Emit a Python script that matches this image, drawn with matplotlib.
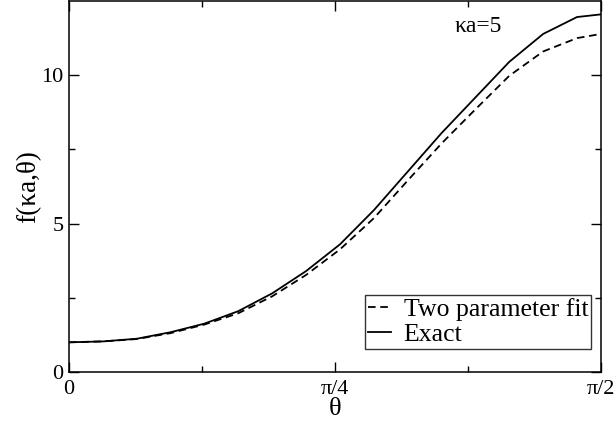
"""f(ka, theta) for ka=5: two parameter fit vs exact."""
import numpy as np
import matplotlib
matplotlib.use("Agg")
import matplotlib.pyplot as plt

theta = [0.0, 0.1, 0.2, 0.3, 0.4, 0.5, 0.6, 0.7, 0.8, 0.9, 1.0,
         1.1, 1.2, 1.3, 1.4, 1.5, np.pi / 2]
f_exact = [1.0, 1.03, 1.12, 1.34, 1.63, 2.05, 2.65, 3.40, 4.30, 5.45, 6.75,
           8.05, 9.25, 10.45, 11.39, 11.96, 12.05]
f_fit = [1.0, 1.03, 1.11, 1.31, 1.60, 1.98, 2.55, 3.27, 4.13, 5.18, 6.45,
         7.70, 8.85, 9.98, 10.80, 11.25, 11.39]

xticks = [0, np.pi / 4, np.pi / 2]
xticklabels = ["0", "\u03c0/4", "\u03c0/2"]
yticks = [0, 5, 10]

plt.rcParams["font.family"] = ["Liberation Serif", "DejaVu Serif"]

fig = plt.figure(figsize=(6.14, 4.23), dpi=100)
ax = fig.add_axes([0.1124, 0.1206, 0.8664, 0.877])

ax.plot(theta, f_fit, color="black", lw=1.3, linestyle=(0, (4.2, 2.6)),
        label="Two parameter fit")
ax.plot(theta, f_exact, color="black", lw=1.3, label="Exact")

ax.set_xlim(0, np.pi / 2)
ax.set_ylim(0, 12.5)
ax.set_xticks(xticks)
ax.set_xticklabels(xticklabels)
ax.set_xticks([np.pi / 8, 3 * np.pi / 8], minor=True)
ax.set_yticks(yticks)
ax.set_yticks([2.5, 7.5], minor=True)

ax.tick_params(which="both", direction="in", top=True, right=True,
               labelsize=16, width=1.0)
ax.tick_params(axis="x", which="major", pad=6)
ax.tick_params(axis="y", which="major", pad=4)
ax.tick_params(which="major", length=7.5)
ax.tick_params(which="minor", length=4)
for s in ax.spines.values():
    s.set_linewidth(1.1)

ax.set_xlabel("\u03b8", fontsize=19, labelpad=-1)
ax.set_ylabel("f(\u03baa,\u03b8)", fontsize=19.5, labelpad=0)

ax.text(0.724, 0.93, "\u03baa=5", transform=ax.transAxes, fontsize=17,
        va="center", ha="left")

leg = ax.legend(loc="lower right", bbox_to_anchor=(0.982, 0.062),
                fontsize=18.5, frameon=True, fancybox=False, borderpad=0.12,
                handlelength=0.9, handletextpad=0.5, labelspacing=0.08,
                borderaxespad=0)
leg.get_frame().set_edgecolor("black")
leg.get_frame().set_linewidth(1.0)

fig.savefig("out.png", dpi=100)
